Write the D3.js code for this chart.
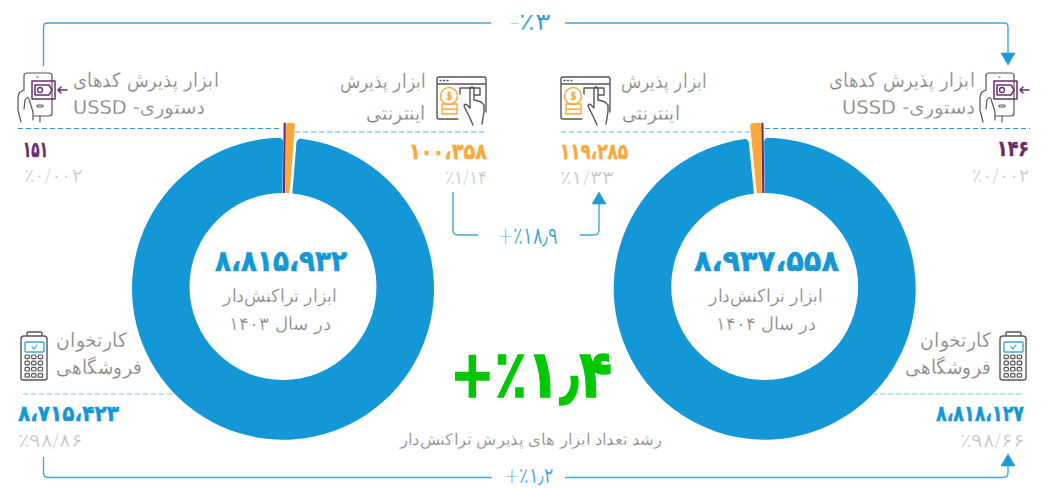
<!DOCTYPE html>
<html lang="fa"><head><meta charset="utf-8">
<script src="https://cdn.jsdelivr.net/npm/d3@7"></script>
<style>
html,body{margin:0;padding:0;background:#fff;overflow:hidden}
svg{display:block}
text{font-family:"DejaVu Sans",sans-serif}
</style></head><body>
<svg id="c" width="1054" height="488" viewBox="0 0 1054 488"></svg>
<script>
const categories = ["pos","internet","ussd"];
const values1403 = [8715423,100358,151];
const values1404 = [8818127,119285,146];
const shares1403 = ["98/86","1/14","0/002"];
const shares1404 = ["98/66","1/33","0/002"];
const totals = [8815932,8937558];
const changes = ["-٪۳","+٪۱۸٫۹","+٪۱٫۲"];
const growthLabel = "+٪۱٫۴";
const colors = {pos:"#1397d7",internet:"#fca73a",ussd:"#6a2c70"};
const fa = s => String(s).replace(/\d/g,d=>"۰۱۲۳۴۵۶۷۸۹"[d]);
const num = v => fa(d3.format(",")(v)).replace(/,/g,"،");
const pct = s => "٪"+fa(s);
const deg = d => d*Math.PI/180;
const svg = d3.select("#c");
const GREY="#808080", LINE="#3aa8dd", ICON="#555";

function donut(cx,cy,holeCy,values,order,start){
  const recs = order.map(c=>({c,v:values[categories.indexOf(c)]}));
  const pie = d3.pie().value(d=>d.v).sort(null).startAngle(deg(start)).endAngle(deg(start+360));
  const arc = d3.arc().innerRadius(80)
    .outerRadius(d=>d.data.c==="pos"?151:166)
    .padAngle(deg(1.1)).padRadius(151)
    .cornerRadius(d=>d.data.c==="pos"?4:2.5);
  const g = svg.append("g").attr("transform",`translate(${cx},${cy})`);
  g.selectAll("path").data(pie(recs)).join("path")
    .attr("d",arc).attr("fill",d=>colors[d.data.c])
    .attr("stroke",d=>d.data.c==="ussd"?colors.ussd:"none")
    .attr("stroke-width",d=>d.data.c==="ussd"?2.2:0);
  svg.append("circle").attr("cx",cx).attr("cy",holeCy).attr("r",93.5).attr("fill","#fff");
}

function txt(x,y,s,o={}){
  const t = svg.append("text").attr("x",x).attr("y",y).text(s)
    .attr("direction",o.dir||"rtl")
    .attr("text-anchor",o.a||"middle")
    .attr("font-size",o.s||18).attr("font-weight",o.w||300)
    .attr("fill",o.f||GREY);
  if(o.len) t.attr("textLength",o.len).attr("lengthAdjust","spacingAndGlyphs");
  if(o.st) t.attr("stroke",o.st).attr("stroke-width",o.sw);
  return t;
}
function hline(x1,x2,y,c,dash){
  svg.append("line").attr("x1",x1).attr("x2",x2).attr("y1",y).attr("y2",y)
    .attr("stroke",c).attr("stroke-width",1.1).attr("stroke-dasharray",dash||"5 3");
}
function conn(d){svg.append("path").attr("d",d).attr("fill","none").attr("stroke",LINE).attr("stroke-width",1.4);}
function tri(x,y,dir){
  const h=dir==="down"?-12:12;
  svg.append("path").attr("d",`M${x-7},${y+h}L${x+7},${y+h}L${x},${y}Z`).attr("fill","#1f9ad6").attr("stroke","#1f9ad6").attr("stroke-width",.6).attr("stroke-linejoin","round");
}

donut(283,288.7,286.5,values1403,["internet","pos","ussd"],0.6);
donut(764.7,288.7,286.5,values1404,["pos","internet","ussd"],-0.8);

hline(18,282,128.5,"#1f9ad6");
hline(295,487,132,"#55b8e8");
hline(561,750,132,"#55b8e8");
hline(765,1030,128.5,"#1f9ad6");
hline(23,175,394,"#74c8ef");
hline(872,1024,394,"#74c8ef");

conn("M43.5,66V27Q43.5,23 47.5,23H491");
conn("M565,23H1004Q1008,23 1008,27V54");
tri(1008,65,"down");
conn("M453,192V230Q453,235 458,235H478");
conn("M580,235H594Q599,235 599,230V203");
tri(599,192,"up");
conn("M43.5,457V473Q43.5,477.5 48,477.5H492");
conn("M565,477.5H1003Q1008,477.5 1008,472.5V465");
tri(1008,454,"up");

const thin={st:"#fff",sw:0.3};
txt(530,30,changes[0],{s:24,f:"#1f9ad6",dir:"ltr",len:42,...thin});
txt(528,244,changes[1],{s:24,f:"#1f9ad6",dir:"ltr",len:60,...thin});
txt(529,482.5,changes[2],{s:22,f:"#1f9ad6",dir:"ltr",len:49,...thin});

const L1="ابزار پذیرش کدهای",L2="دستوری- USSD",I1="ابزار پذیرش",I2="اینترنتی",P1="کارتخوان",P2="فروشگاهی";
const ls=19.5;
const lab=(x,y,s,len,w)=>txt(x,y,s,{a:"start",s:ls,len,w,...thin});
lab(219,87,L1,146); lab(205,114,L2,132,400);
lab(426,88,I1,86); lab(426,120,I2,60);
lab(707,88,I1,86); lab(680,120,I2,58);
lab(975,87,L1,146); lab(975,114,L2,133,400);
lab(127,347,P1,71); lab(142,374,P2,86);
lab(991,347,P1,71); lab(991,374,P2,86);

const vs=22, ss=19, cG="#c4c4c4";
const V=(x,y,v,c,a,len)=>txt(x,y,num(v),{s:vs,w:700,f:colors[c],a:a,dir:"ltr",len,st:colors[c],sw:0.5});
const S=(x,y,t,a,len)=>txt(x,y,pct(t),{s:ss,f:cG,a:a,dir:"ltr",len,...thin});
V(23,157,values1403[2],"ussd","start",25); S(24,181.5,shares1403[2],"start",58);
V(487,159,values1403[1],"internet","end",78); S(487,184,shares1403[1],"end",42);
V(560,158.5,values1404[1],"internet","start",68); S(560,184,shares1404[1],"start",53);
V(1029,156,values1404[2],"ussd","end",32); S(1029,181.5,shares1404[2],"end",57);
V(18,421,values1403[0],"pos","start",101); S(18,447,shares1403[0],"start",64);
V(1024,421,values1404[0],"pos","end",88); S(1024,447,shares1404[0],"end",64);

const T=(x,v,len)=>txt(x,270.5,num(v),{s:29,w:700,f:colors.pos,dir:"ltr",len,st:colors.pos,sw:0.6});
T(281,totals[0],132); T(766.5,totals[1],145);
const C=(x,y,s,len)=>txt(x,y,s,{s:17.5,len,...thin});
C(280,302,"ابزار تراکنش‌دار",114);
C(280,330,"در سال ۱۴۰۳",102);
C(766,302,"ابزار تراکنش‌دار",114);
C(766,330,"در سال ۱۴۰۴",100);

txt(531,397,growthLabel,{s:66,w:700,f:"#00c800",dir:"ltr",len:162,st:"#00c800",sw:1.5});
txt(531,445,"رشد تعداد ابزار های پذیرش تراکنش‌دار",{s:16,len:262,...thin});

function ic(dx,dy){return svg.append("g").attr("transform",`translate(${dx},${dy})`).attr("fill","none").attr("stroke-width",1.2).attr("stroke-linecap","round").attr("stroke-linejoin","round");}
function phoneIcon(dx){
  const g=ic(dx,0);
  g.append("path").attr("stroke",ICON).attr("d","M24,90V76Q24,73 27,73H49Q52,73 52,76V113Q52,116 49,116H33M37,77H38M38,105H42Q43,105 43,106Q43,107 42,107H38Q37,107 37,106Q37,105 38,105ZM40,116V122M33,120V112L29,99Q27,96 25,100L24,109M24,90L20,92Q18,94 18,100V110L21,122");
  g.append("path").attr("stroke","#6a2c70").attr("stroke-width",1.5).attr("d","M32,81H55V99H32ZM35,85H49L52,90L49,95H35ZM58,90H67M61,87L58,90L61,93");
  g.append("circle").attr("cx",40).attr("cy",90).attr("r",2.5).attr("stroke","#6a2c70").attr("stroke-width",1.3);
}
function windowIcon(dx){
  const g=ic(dx,0);
  g.append("path").attr("stroke",ICON).attr("stroke-width",1.4).attr("d","M437,112V79Q437,77 439,77H484Q486,77 486,79V112M437,84H486M437,112V117Q437,119 439,119H458M440,80.5H441M443.5,80.5H444.5M447,80.5H448M460,94V88H480V95H475M470,88V108M470,88Q472,86 474,88V100L478,101L481,102L484,105V112L482,124M470,108L467,105Q465,103 464,106L469,116L473,125");
  g.append("circle").attr("cx",449).attr("cy",96).attr("r",8.5).attr("stroke","#fca73a").attr("stroke-width",1.5);
  g.append("path").attr("stroke","#fca73a").attr("stroke-width",1.4).attr("d","M442,104H457V109H442ZM442,109H457V114H442V104M449,92V100M451,93H448V96H451V99H447");
}
function posIcon(dx){
  const g=ic(dx,0);
  g.append("path").attr("stroke",ICON).attr("stroke-width",1.4).attr("d","M24,336Q21,336 21,339V378Q21,380 24,380H44Q47,380 47,378V339Q47,336 44,336ZM27,336V333Q27,332 28,332H41Q42,332 42,333V336");
  g.append("rect").attr("x",25).attr("y",342).attr("width",19).attr("height",10).attr("stroke","#3aa8dd").attr("stroke-width",1.4).attr("rx",1);
  g.append("path").attr("stroke","#3aa8dd").attr("d","M32,347L34,349L37,345");
  [0,1,2].forEach(c=>[0,1,2,3].forEach(r=>g.append("rect").attr("x",25+c*6.6).attr("y",355+r*6.2).attr("width",4.4).attr("height",3.6).attr("rx",1).attr("stroke",ICON)));
}
phoneIcon(0);phoneIcon(962);windowIcon(0);windowIcon(124);posIcon(0);posIcon(979);
</script></body></html>
